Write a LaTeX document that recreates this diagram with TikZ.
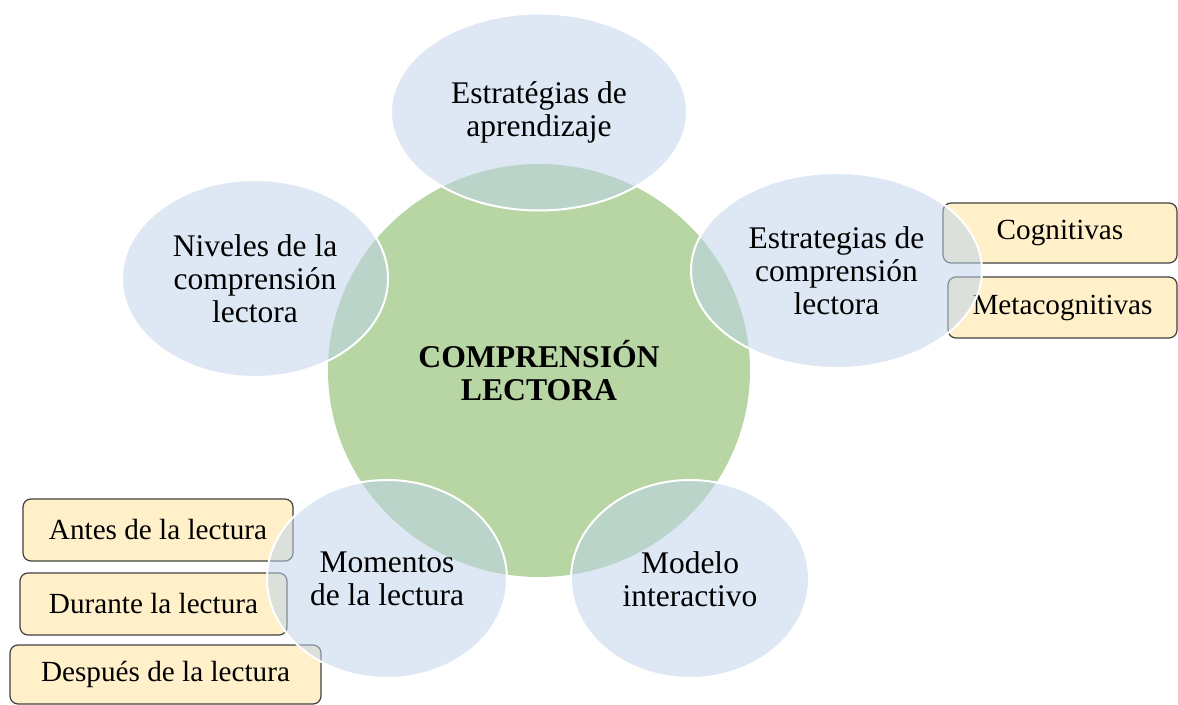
\documentclass[tikz,border=0pt]{standalone}
\usepackage{fontspec}
\setmainfont{Liberation Serif}
\usetikzlibrary{shapes.geometric}
\definecolor{verdeCentro}{HTML}{B7D6A4}
\definecolor{azulElipse}{HTML}{BED3EA}
\definecolor{amarilloCaja}{HTML}{FFF0C9}
\definecolor{bordeCaja}{HTML}{404040}
\begin{document}
\begin{tikzpicture}[x=0.5pt,y=-0.5pt,
    elipse/.style={ellipse, inner sep=0pt, fill=azulElipse, fill opacity=0.53, text opacity=1,
        draw=white, line width=1pt, align=center, font=\fontsize{15.75}{16.5}\selectfont},
    caja/.style={rectangle, rounded corners=4pt, inner sep=0pt, draw=bordeCaja, line width=0.6pt,
        fill=amarilloCaja, font=\fontsize{14.6}{16.5}\selectfont}]
        \useasboundingbox (0,0) rectangle (1178,705);
        
        %% cajas de los subtemas (debajo de las elipses)
        \foreach \nombre/\cx/\cy/\ancho/\alto/\texto in
        {cogn/1060/233/117/30/Cognitivas,
            meta/1062.5/307.5/114.5/30.5/Metacognitivas,
            antes/158/530/135/31/Antes de la lectura,
            durante/153.5/604/133.5/31/Durante la lectura,
            despues/165.5/674.5/155.5/29.5/Después de la lectura
        }
        {
            \node[caja, minimum width=\ancho*1pt, minimum height=\alto*1pt] (\nombre) at (\cx,\cy) {\texto};
        };
        
        \node[ellipse, fill=verdeCentro, minimum width=211pt, minimum height=206.5pt, inner sep=0pt, align=center,
            font=\bfseries\fontsize{15.85}{16.5}\selectfont] (centro) at (539,370.5) {COMPRENSIÓN\\LECTORA};
        
        %% elipses alrededor del centro
        \node[elipse, minimum width=148pt, minimum height=98.5pt] (aprend) at (539,112) {Estratégias de\\aprendizaje};
        \node[elipse, minimum width=145.5pt, minimum height=97.5pt] (estrat) at (836.5,270.5) {Estrategias de\\comprensión\\lectora};
        \node[elipse, minimum width=133pt, minimum height=98.5pt] (niveles) at (255,278.5) {Niveles de la\\comprensión\\lectora};
        \node[elipse, minimum width=120pt, minimum height=99pt] (momentos) at (387,579) {Momentos\\de la lectura};
        \node[elipse, minimum width=119pt, minimum height=99pt] (modelo) at (690,579) {Modelo\\interactivo};
\end{tikzpicture}
\end{document}
